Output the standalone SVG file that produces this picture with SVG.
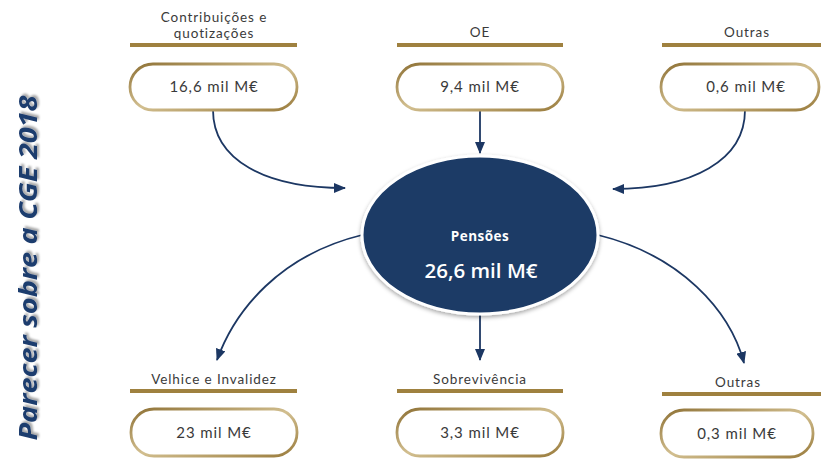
<svg xmlns="http://www.w3.org/2000/svg" width="821" height="461" viewBox="0 0 821 461">
<defs>
<marker id="ah" viewBox="0 0 12 10" refX="11" refY="5" markerWidth="12" markerHeight="10" markerUnits="userSpaceOnUse" orient="auto">
<path d="M0,0 L12,5 L0,10 Z" fill="#1c3763"/>
</marker>
<linearGradient id="pg" x1="0" y1="0" x2="1" y2="1">
<stop offset="0" stop-color="#8f7236"/>
<stop offset="0.5" stop-color="#d2bf90"/>
<stop offset="1" stop-color="#9a7c3d"/>
</linearGradient>
<filter id="sh" x="-10%" y="-10%" width="120%" height="125%">
<feGaussianBlur in="SourceAlpha" stdDeviation="2"/>
<feOffset dx="0" dy="2" result="b"/>
<feFlood flood-color="#000" flood-opacity="0.35"/>
<feComposite in2="b" operator="in"/>
<feMerge><feMergeNode/><feMergeNode in="SourceGraphic"/></feMerge>
</filter>
<filter id="tsh" x="-10%" y="-10%" width="130%" height="130%">
<feGaussianBlur in="SourceAlpha" stdDeviation="1.2"/>
<feOffset dx="1.5" dy="1.5" result="b"/>
<feFlood flood-color="#000" flood-opacity="0.35"/>
<feComposite in2="b" operator="in"/>
<feMerge><feMergeNode/><feMergeNode in="SourceGraphic"/></feMerge>
</filter>
</defs>
<style>
.lbl{font-family:Lato,"Open Sans","Liberation Sans",sans-serif;font-size:13.5px;letter-spacing:0.9px;fill:#3a3a3a;text-anchor:middle}
.val{font-family:Lato,"Open Sans","Liberation Sans",sans-serif;font-size:15px;letter-spacing:0.9px;fill:#3a3a3a;text-anchor:middle}
.bar{fill:#9f813f}
.pill{fill:#fff;stroke:url(#pg);stroke-width:2.8}
.conn{fill:none;stroke:#1c3763;stroke-width:1.8;marker-end:url(#ah)}
</style>
<rect width="821" height="461" fill="#fff"/>
<text transform="translate(37,268) rotate(-90)" text-anchor="middle" font-family="'Open Sans','Liberation Sans',sans-serif" font-weight="bold" font-style="italic" font-size="25" fill="#1f3d6e" textLength="345" lengthAdjust="spacingAndGlyphs" filter="url(#tsh)">Parecer sobre a CGE 2018</text>
<g id="connectors">
<path class="conn" d="M213,110 C213,160 265,188 345,188"/>
<path class="conn" d="M480,110 L480,153"/>
<path class="conn" d="M745,110 C745,160 693,189 613,189"/>
<path class="conn" d="M362,235 C280,255 235,310 217,360"/>
<path class="conn" d="M480,315 L480,360"/>
<path class="conn" d="M598,235 C680,255 730,310 744,363"/>
</g>
<g id="node-pensoes">
<ellipse cx="480" cy="235" rx="118" ry="79" fill="#1b3a66" stroke="#fff" stroke-width="3" filter="url(#sh)"/>
<text x="480" y="241" text-anchor="middle" font-family="'Open Sans','Liberation Sans',sans-serif" font-weight="bold" font-size="13.5" letter-spacing="0.5" fill="#fff">Pensões</text>
<text x="481" y="278" text-anchor="middle" font-family="'Open Sans','Liberation Sans',sans-serif" font-weight="600" font-size="20.5" fill="#fff">26,6 mil M€</text>
</g>
<g id="node-contribuicoes">
<text class="lbl" x="214" y="22">Contribuições e</text>
<text class="lbl" x="214" y="38">quotizações</text>
<rect class="bar" x="130" y="43" width="167" height="4"/>
<rect class="pill" x="130" y="64" width="167" height="46" rx="23"/>
<text class="val" x="214" y="92">16,6 mil M€</text>
</g>
<g id="node-oe">
<text class="lbl" x="480" y="37">OE</text>
<rect class="bar" x="397" y="43" width="166" height="4"/>
<rect class="pill" x="397" y="64" width="166" height="46" rx="23"/>
<text class="val" x="480" y="92">9,4 mil M€</text>
</g>
<g id="node-outras-top">
<text class="lbl" x="747" y="37">Outras</text>
<rect class="bar" x="662" y="43" width="159" height="4"/>
<rect class="pill" x="661" y="64" width="158" height="46" rx="23"/>
<text class="val" x="746" y="92">0,6 mil M€</text>
</g>
<g id="node-velhice">
<text class="lbl" x="214" y="384">Velhice e Invalidez</text>
<rect class="bar" x="130" y="389" width="167" height="4"/>
<rect class="pill" x="131" y="409" width="166" height="47" rx="23"/>
<text class="val" x="214" y="438">23 mil M€</text>
</g>
<g id="node-sobrevivencia">
<text class="lbl" x="480" y="384">Sobrevivência</text>
<rect class="bar" x="397" y="389" width="166" height="4"/>
<rect class="pill" x="397" y="409" width="166" height="47" rx="23"/>
<text class="val" x="480" y="438">3,3 mil M€</text>
</g>
<g id="node-outras-bottom">
<text class="lbl" x="738" y="387">Outras</text>
<rect class="bar" x="662" y="392" width="159" height="4"/>
<rect class="pill" x="661" y="410" width="152" height="47" rx="23"/>
<text class="val" x="737" y="439">0,3 mil M€</text>
</g>
</svg>
